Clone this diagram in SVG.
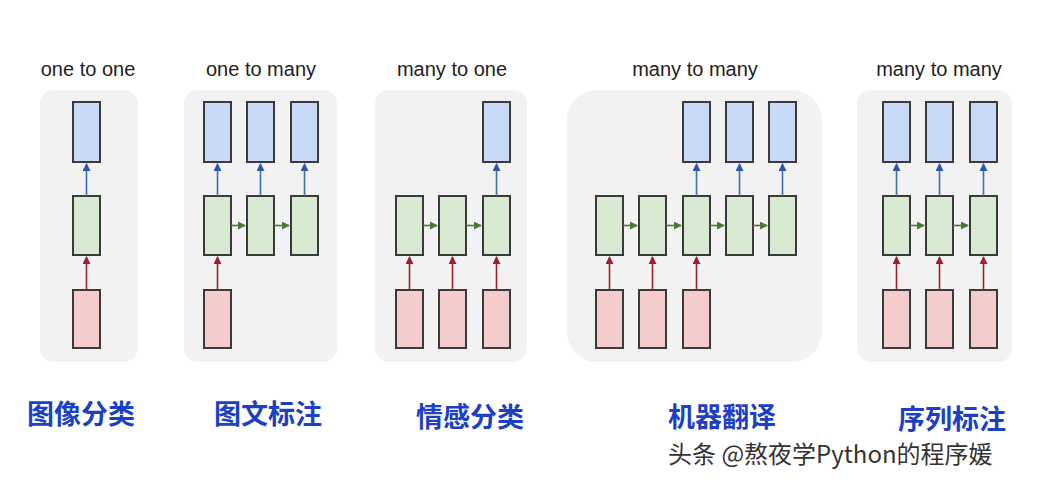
<svg xmlns="http://www.w3.org/2000/svg" width="1048" height="480" viewBox="0 0 1048 480">
<style>
.p{fill:#f2f2f2}
.o{fill:#c9daf8;stroke:#3a3a3a;stroke-width:2}
.h{fill:#d9ead3;stroke:#3a3a3a;stroke-width:2}
.i{fill:#f4cccc;stroke:#3a3a3a;stroke-width:2}
.t{font-family:"Liberation Sans",Arial,sans-serif;font-size:20px;fill:#222;text-anchor:middle}
.c{font-family:"Noto Sans CJK SC",sans-serif;font-size:27px;font-weight:bold;fill:#1c3fc4;text-anchor:middle}
.ab{stroke:#3d6db5;stroke-width:1.6;marker-end:url(#mb)}
.ar{stroke:#a0202a;stroke-width:1.6;marker-end:url(#mr)}
.ag{stroke:#4a7a35;stroke-width:1.6;marker-end:url(#mg)}
</style>
<defs>
<marker id="mb" markerWidth="8" markerHeight="8" refX="7" refY="4" orient="auto" markerUnits="userSpaceOnUse"><path d="M0,0L8,4L0,8z" fill="#2a55b0"/></marker>
<marker id="mr" markerWidth="8" markerHeight="8" refX="7" refY="4" orient="auto" markerUnits="userSpaceOnUse"><path d="M0,0L8,4L0,8z" fill="#a0202a"/></marker>
<marker id="mg" markerWidth="8" markerHeight="8" refX="7" refY="4" orient="auto" markerUnits="userSpaceOnUse"><path d="M0,0L8,4L0,8z" fill="#4a7a35"/></marker>
</defs>
<rect width="1048" height="480" fill="#fff"/>
<g id="panel1"><rect class="p" x="40" y="90" width="98" height="272" rx="14"/>
<text class="t" x="88" y="76">one to one</text>
<rect class="o" x="73" y="102" width="27" height="60"/><rect class="h" x="73" y="196" width="27" height="59"/><rect class="i" x="73" y="290" width="27" height="58"/>
<text class="c" x="81" y="424">图像分类</text></g>
<g id="panel2"><rect class="p" x="184" y="90" width="153" height="272" rx="14"/>
<text class="t" x="261" y="76">one to many</text>
<rect class="o" x="204" y="102" width="27" height="60"/><rect class="o" x="247" y="102" width="27" height="60"/><rect class="o" x="291" y="102" width="27" height="60"/>
<rect class="h" x="204" y="196" width="27" height="59"/><rect class="h" x="247" y="196" width="27" height="59"/><rect class="h" x="291" y="196" width="27" height="59"/>
<rect class="i" x="204" y="290" width="27" height="58"/>
<text class="c" x="268" y="424">图文标注</text></g>
<g id="panel3"><rect class="p" x="375" y="90" width="152" height="272" rx="14"/>
<text class="t" x="452" y="76">many to one</text>
<rect class="o" x="483" y="102" width="27" height="60"/>
<rect class="h" x="396" y="196" width="27" height="59"/><rect class="h" x="439" y="196" width="27" height="59"/><rect class="h" x="483" y="196" width="27" height="59"/>
<rect class="i" x="396" y="290" width="27" height="58"/><rect class="i" x="439" y="290" width="27" height="58"/><rect class="i" x="483" y="290" width="27" height="58"/>
<text class="c" x="470" y="427">情感分类</text></g>
<g id="panel4"><rect class="p" x="567" y="90" width="255" height="272" rx="30"/>
<text class="t" x="695" y="76">many to many</text>
<rect class="o" x="683" y="102" width="27" height="60"/><rect class="o" x="726" y="102" width="27" height="60"/><rect class="o" x="769" y="102" width="27" height="60"/>
<rect class="h" x="596" y="196" width="27" height="59"/><rect class="h" x="639" y="196" width="27" height="59"/><rect class="h" x="683" y="196" width="27" height="59"/><rect class="h" x="726" y="196" width="27" height="59"/><rect class="h" x="769" y="196" width="27" height="59"/>
<rect class="i" x="596" y="290" width="27" height="58"/><rect class="i" x="639" y="290" width="27" height="58"/><rect class="i" x="683" y="290" width="27" height="58"/>
<text class="c" x="722" y="427">机器翻译</text></g>
<g id="panel5"><rect class="p" x="857" y="90" width="155" height="272" rx="14"/>
<text class="t" x="939" y="76">many to many</text>
<rect class="o" x="883" y="102" width="27" height="60"/><rect class="o" x="926" y="102" width="27" height="60"/><rect class="o" x="970" y="102" width="27" height="60"/>
<rect class="h" x="883" y="196" width="27" height="59"/><rect class="h" x="926" y="196" width="27" height="59"/><rect class="h" x="970" y="196" width="27" height="59"/>
<rect class="i" x="883" y="290" width="27" height="58"/><rect class="i" x="926" y="290" width="27" height="58"/><rect class="i" x="970" y="290" width="27" height="58"/>
<text class="c" x="952" y="429">序列标注</text></g>
<g id="connectors">
<line class="ab" x1="86.5" y1="196" x2="86.5" y2="164"/><line class="ab" x1="217.5" y1="196" x2="217.5" y2="164"/><line class="ab" x1="260.5" y1="196" x2="260.5" y2="164"/><line class="ab" x1="304.5" y1="196" x2="304.5" y2="164"/><line class="ab" x1="496.5" y1="196" x2="496.5" y2="164"/><line class="ab" x1="696.5" y1="196" x2="696.5" y2="164"/><line class="ab" x1="739.5" y1="196" x2="739.5" y2="164"/><line class="ab" x1="782.5" y1="196" x2="782.5" y2="164"/><line class="ab" x1="896.5" y1="196" x2="896.5" y2="164"/><line class="ab" x1="939.5" y1="196" x2="939.5" y2="164"/><line class="ab" x1="983.5" y1="196" x2="983.5" y2="164"/>
<line class="ar" x1="86.5" y1="290" x2="86.5" y2="257"/><line class="ar" x1="217.5" y1="290" x2="217.5" y2="257"/><line class="ar" x1="409.5" y1="290" x2="409.5" y2="257"/><line class="ar" x1="452.5" y1="290" x2="452.5" y2="257"/><line class="ar" x1="496.5" y1="290" x2="496.5" y2="257"/><line class="ar" x1="609.5" y1="290" x2="609.5" y2="257"/><line class="ar" x1="652.5" y1="290" x2="652.5" y2="257"/><line class="ar" x1="696.5" y1="290" x2="696.5" y2="257"/><line class="ar" x1="896.5" y1="290" x2="896.5" y2="257"/><line class="ar" x1="939.5" y1="290" x2="939.5" y2="257"/><line class="ar" x1="983.5" y1="290" x2="983.5" y2="257"/>
<line class="ag" x1="231" y1="225.5" x2="245" y2="225.5"/><line class="ag" x1="274" y1="225.5" x2="289" y2="225.5"/><line class="ag" x1="423" y1="225.5" x2="437" y2="225.5"/><line class="ag" x1="466" y1="225.5" x2="481" y2="225.5"/><line class="ag" x1="623" y1="225.5" x2="637" y2="225.5"/><line class="ag" x1="666" y1="225.5" x2="681" y2="225.5"/><line class="ag" x1="710" y1="225.5" x2="724" y2="225.5"/><line class="ag" x1="753" y1="225.5" x2="767" y2="225.5"/><line class="ag" x1="910" y1="225.5" x2="924" y2="225.5"/><line class="ag" x1="953" y1="225.5" x2="968" y2="225.5"/>
</g>
<text x="668" y="463" style="font-family:'Noto Sans CJK SC',sans-serif;font-size:24px;fill:#333">头条 @熬夜学Python的程序媛</text>
</svg>
